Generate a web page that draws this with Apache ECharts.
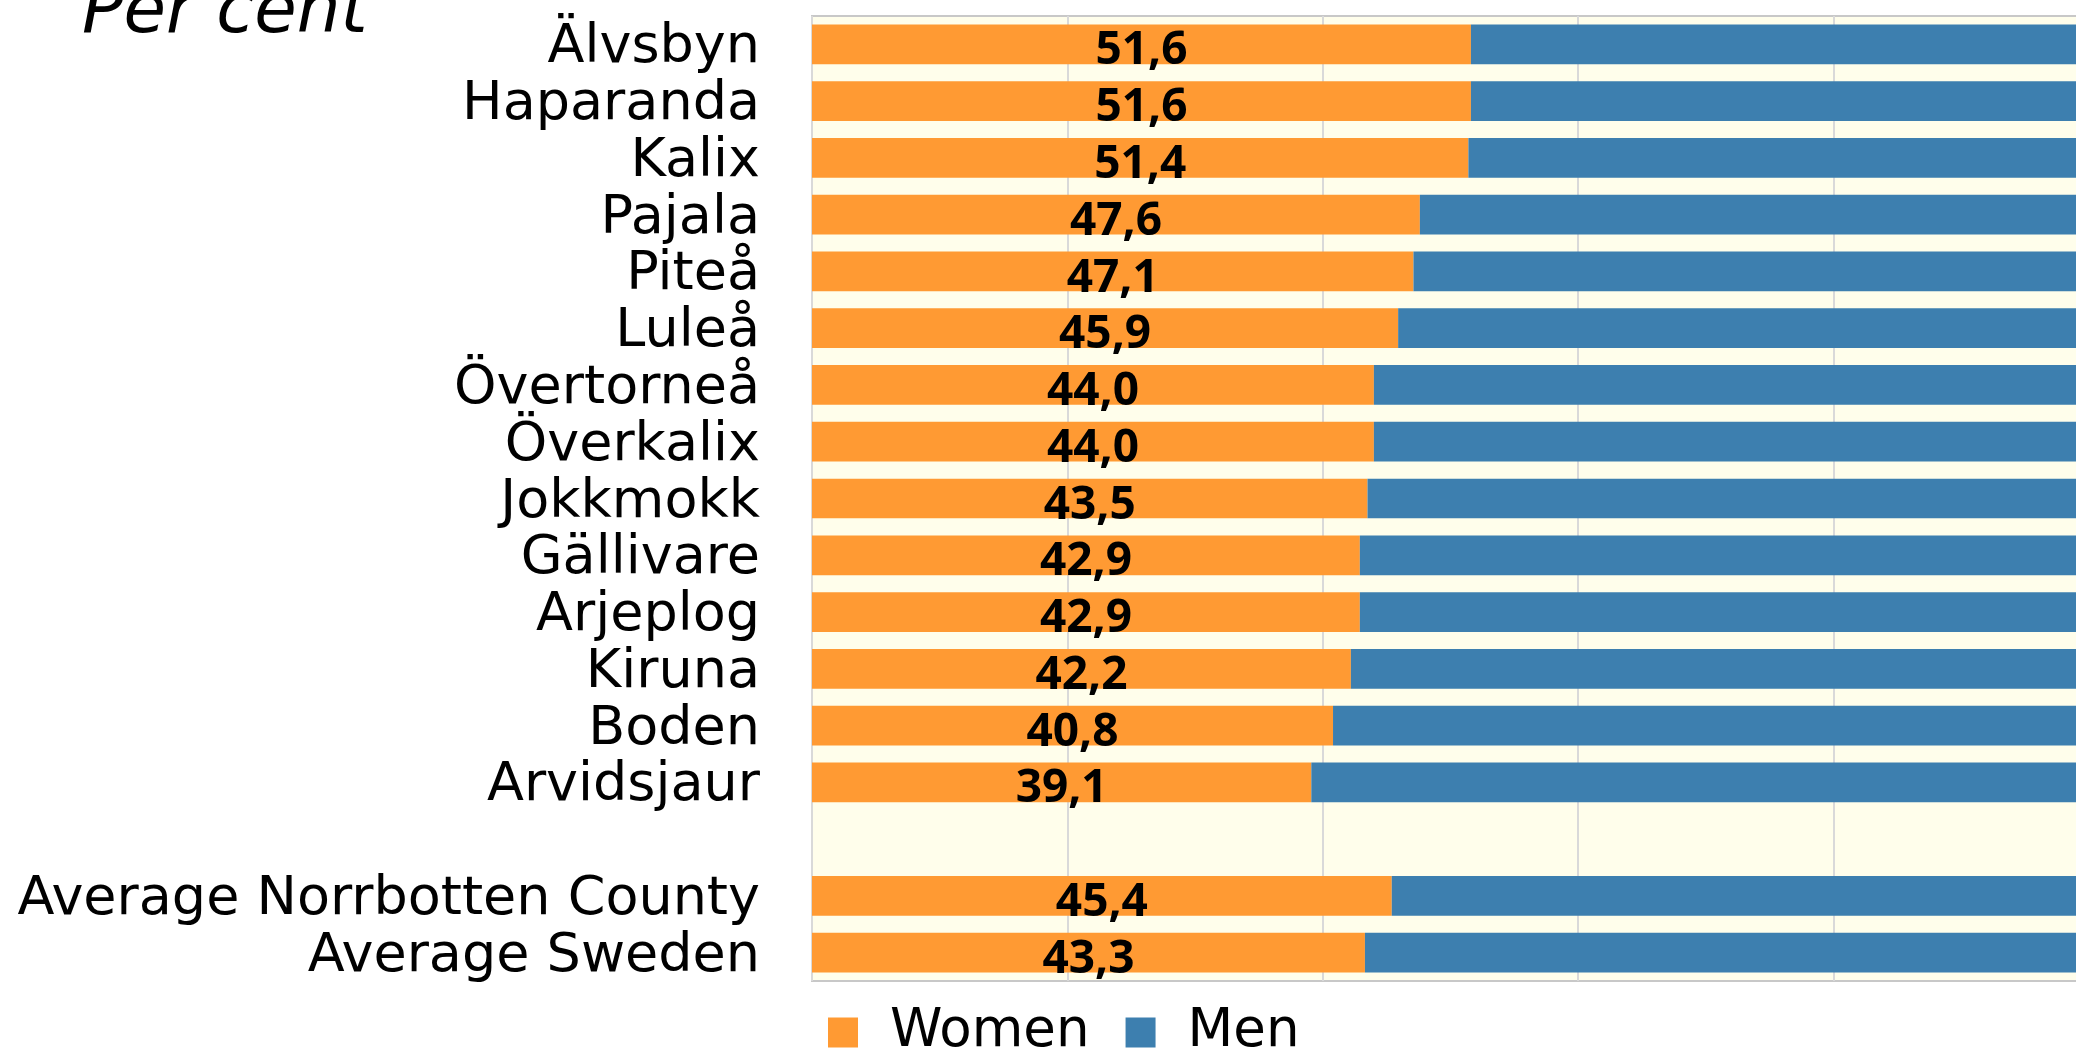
<!DOCTYPE html>
<html lang="en">
	<head>
		<meta charset="utf-8">
		<title>Women and men, per cent</title>
		<script src="https://cdn.jsdelivr.net/npm/echarts@6/dist/echarts.min.js"></script>
		<style>
			html, body { margin: 0; padding: 0; background: #ffffff; }
			#main { width: 2076px; height: 1054px; }
		</style>
	</head>
	<body>
		<div id="main"></div>
		<script type="text/javascript">
			// municipalities, blank row, then the two averages
			var categories = ['Älvsbyn', 'Haparanda', 'Kalix', 'Pajala', 'Piteå', 'Luleå', 'Övertorneå',
				'Överkalix', 'Jokkmokk', 'Gällivare', 'Arjeplog', 'Kiruna', 'Boden', 'Arvidsjaur',
				'', 'Average Norrbotten County', 'Average Sweden'];
			var women = [51.6, 51.6, 51.4, 47.6, 47.1, 45.9, 44.0, 44.0, 43.5, 42.9, 42.9, 42.2, 40.8, 39.1,
				null, 45.4, 43.3];
			var men = [48.4, 48.4, 48.6, 52.4, 52.9, 54.1, 56.0, 56.0, 56.5, 57.1, 57.1, 57.8, 59.2, 60.9,
				null, 54.6, 56.7];
			var xTicks = [0, 20, 40, 60, 80, 100];

			var myChart = echarts.init(document.getElementById('main'));

			var option = {
				animation: false,
				title: {
					text: 'Per cent',
					left: 82,
					top: -20,
					padding: 0,
					textStyle: {
						fontFamily: 'DejaVu Sans',
						fontStyle: 'italic',
						fontWeight: 'normal',
						fontSize: 69,
						color: '#000000'
					}
				},
				legend: {
					data: ['Women', 'Men'],
					left: 828,
					top: 1006,
					padding: 0,
					icon: 'rect',
					itemWidth: 30,
					itemHeight: 30,
					itemGap: 36,
					textStyle: {
						fontFamily: 'DejaVu Sans',
						fontSize: 53,
						color: '#000000',
						padding: [0, 0, 0, 27]
					}
				},
				grid: {
					show: true,
					left: 812,
					top: 16,
					width: 1277,
					height: 965,
					outerBoundsMode: 'none',
					backgroundColor: '#fffeeb',
					borderColor: '#c8c8c8',
					borderWidth: 2,
					containLabel: false
				},
				xAxis: {
					type: 'value',
					min: xTicks[0],
					max: xTicks[xTicks.length - 1],
					interval: xTicks[1] - xTicks[0],
					axisLine: { show: false },
					axisTick: { show: false },
					axisLabel: { show: false },
					splitLine: { lineStyle: { color: '#d9d9d9', width: 2 } }
				},
				yAxis: {
					type: 'category',
					data: categories,
					inverse: true,
					axisLine: { show: false },
					axisTick: { show: false },
					splitLine: { show: false },
					axisLabel: {
						interval: 0,
						margin: 52,
						verticalAlign: 'top',
						lineHeight: 8,
						fontFamily: 'DejaVu Sans',
						fontSize: 54,
						color: '#000000'
					}
				},
				series: [
					{
						name: 'Women',
						type: 'bar',
						stack: 'total',
						data: women,
						barCategoryGap: '30%',
						itemStyle: { color: '#ff9a33' },
						label: {
							show: true,
							position: 'inside',
							offset: [0, 7],
							fontFamily: 'Open Sans',
							fontWeight: 'bold',
							fontSize: 46,
							color: '#000000',
							formatter: function (p) {
								return p.value.toFixed(1).replace('.', ',');
							}
						}
					},
					{
						name: 'Men',
						type: 'bar',
						stack: 'total',
						data: men,
						barCategoryGap: '30%',
						itemStyle: { color: '#3d7faf' }
					}
				]
			};

			myChart.setOption(option);
		</script>
	</body>
</html>
